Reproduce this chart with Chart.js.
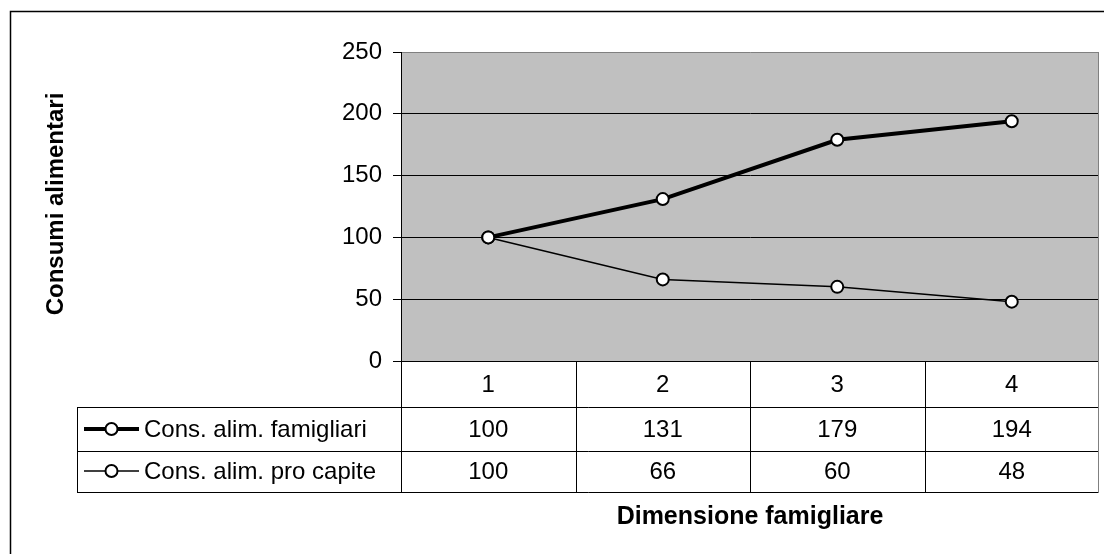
<!DOCTYPE html>
<html>
<head>
<meta charset="utf-8">
<title>Consumi alimentari</title>
<script src="https://cdn.jsdelivr.net/npm/chart.js@4.4.1/dist/chart.umd.min.js"></script>
<style>
    html, body { margin: 0; padding: 0; background: #fff; }
    #wrap { width: 1104px; height: 554px; }
</style>
</head>
<body>
<div id="wrap"><canvas id="myChart" width="1104" height="554"></canvas></div>
<script>
const categories = ['1', '2', '3', '4'];
const famigliari = [100, 131, 179, 194];
const proCapite = [100, 66, 60, 48];
const seriesNames = ['Cons. alim. famigliari', 'Cons. alim. pro capite'];
const yTicks = [0, 50, 100, 150, 200, 250];

const FONT = '"Liberation Sans", Arial, sans-serif';

// sfondo grigio dell'area del grafico + cornice esterna
const plotBackground = {
    id: 'plotBackground',
    beforeDraw(chart) {
        const { ctx, chartArea } = chart;
        ctx.save();
        ctx.fillStyle = '#fff';
        ctx.fillRect(0, 0, chart.width, chart.height);
        ctx.fillStyle = '#c0c0c0';
        ctx.fillRect(chartArea.left, chartArea.top, chartArea.right - chartArea.left, chartArea.bottom - chartArea.top);
        ctx.strokeStyle = '#000';
        ctx.lineWidth = 1.5;
        ctx.strokeRect(10.5, 11.5, 1200, 600);
        ctx.restore();
    }
};

function drawLegendKey(ctx, x1, x2, y, width) {
    ctx.strokeStyle = '#000';
    ctx.lineWidth = width;
    ctx.beginPath();
    ctx.moveTo(x1, y);
    ctx.lineTo(x2, y);
    ctx.stroke();
    ctx.beginPath();
    ctx.arc((x1 + x2) / 2, y, 6, 0, Math.PI * 2);
    ctx.fillStyle = '#fff';
    ctx.fill();
    ctx.lineWidth = 2;
    ctx.stroke();
}

// tabella dati sotto l'asse x, titoli degli assi
const dataTable = {
    id: 'dataTable',
    afterDraw(chart) {
        const { ctx, chartArea } = chart;
        const xScale = chart.scales.x;
        const centers = chart.data.labels.map((_, i) => xScale.getPixelForValue(i));
        const half = (centers[1] - centers[0]) / 2;
        const tableLeft = 77.5;
        const rows = [361, 407, 451, 492];

        ctx.save();
        ctx.lineWidth = 1;
        ctx.strokeStyle = '#000';

        // linee orizzontali
        [rows[1], rows[2], rows[3]].forEach(y => {
            ctx.beginPath();
            ctx.moveTo(tableLeft, y + 0.5);
            ctx.lineTo(chartArea.right, y + 0.5);
            ctx.stroke();
        });
        // bordo sinistro legenda
        ctx.beginPath();
        ctx.moveTo(tableLeft, rows[1]);
        ctx.lineTo(tableLeft, rows[3] + 1);
        ctx.stroke();
        // separatori colonne
        centers.forEach((c, i) => {
            const x = Math.round(c - half) + 0.5;
            ctx.beginPath();
            ctx.moveTo(x, rows[0]);
            ctx.lineTo(x, rows[3] + 1);
            ctx.stroke();
        });
        ctx.strokeStyle = '#808080';
        ctx.beginPath();
        ctx.moveTo(chartArea.right - 0.5, chartArea.top);
        ctx.lineTo(chartArea.right - 0.5, rows[3] + 1);
        ctx.stroke();

        // testi
        ctx.fillStyle = '#000';
        ctx.font = '24px ' + FONT;
        ctx.textAlign = 'center';
        ctx.textBaseline = 'middle';
        chart.data.labels.forEach((lab, i) => {
            ctx.fillText(lab, centers[i], 385);
        });
        chart.data.datasets.forEach((ds, r) => {
            const yMid = r === 0 ? 430 : 472;
            ds.data.forEach((v, i) => {
                ctx.fillText(String(v), centers[i], yMid);
            });
        });

        ctx.textAlign = 'left';
        chart.data.datasets.forEach((ds, r) => {
            const yMid = r === 0 ? 430 : 472;
            drawLegendKey(ctx, 84, 139, r === 0 ? 429 : 471, ds.borderWidth);
            ctx.fillStyle = '#000';
            ctx.fillText(ds.label, 144, yMid);
        });

        // titoli assi
        ctx.font = 'bold 25px ' + FONT;
        ctx.textAlign = 'center';
        ctx.textBaseline = 'alphabetic';
        ctx.fillText('Dimensione famigliare', (chartArea.left + chartArea.right) / 2, 524);

        ctx.font = 'bold 24px ' + FONT;
        ctx.translate(63, 204);
        ctx.rotate(-Math.PI / 2);
        ctx.fillText('Consumi alimentari', 0, 0);
        ctx.restore();
    }
};

const ctx = document.getElementById('myChart').getContext('2d');
const myChart = new Chart(ctx, {
    type: 'line',
    data: {
        labels: categories,
        datasets: [{
            label: seriesNames[0],
            data: famigliari,
            borderColor: '#000',
            borderWidth: 4,
            pointRadius: 6,
            pointBackgroundColor: '#fff',
            pointBorderColor: '#000',
            pointBorderWidth: 2,
            tension: 0,
            fill: false
        }, {
            label: seriesNames[1],
            data: proCapite,
            borderColor: '#000',
            borderWidth: 1.5,
            pointRadius: 6,
            pointBackgroundColor: '#fff',
            pointBorderColor: '#000',
            pointBorderWidth: 2,
            tension: 0,
            fill: false
        }]
    },
    options: {
        responsive: false,
        animation: false,
        layout: {
            autoPadding: false,
            padding: { top: 52, right: 5, left: 0, bottom: 0 }
        },
        plugins: {
            legend: { display: false },
            tooltip: { enabled: false }
        },
        scales: {
            x: {
                offset: true,
                ticks: { display: false },
                grid: { display: false },
                border: { display: false },
                afterFit(scale) { scale.height = 193; }
            },
            y: {
                min: yTicks[0],
                max: yTicks[yTicks.length - 1],
                afterBuildTicks(scale) {
                    scale.ticks = yTicks.map(v => ({ value: v }));
                },
                ticks: {
                    color: '#000',
                    font: { family: FONT, size: 24 },
                    padding: 11
                },
                grid: {
                    color: c => (c.tick && c.tick.value === 250 ? '#808080' : '#000'),
                    tickColor: '#000',
                    tickLength: 8,
                    lineWidth: 1
                },
                border: { display: true, color: '#000', width: 1 },
                afterFit(scale) { scale.width = 401; }
            }
        }
    },
    plugins: [plotBackground, dataTable]
});
</script>
</body>
</html>
